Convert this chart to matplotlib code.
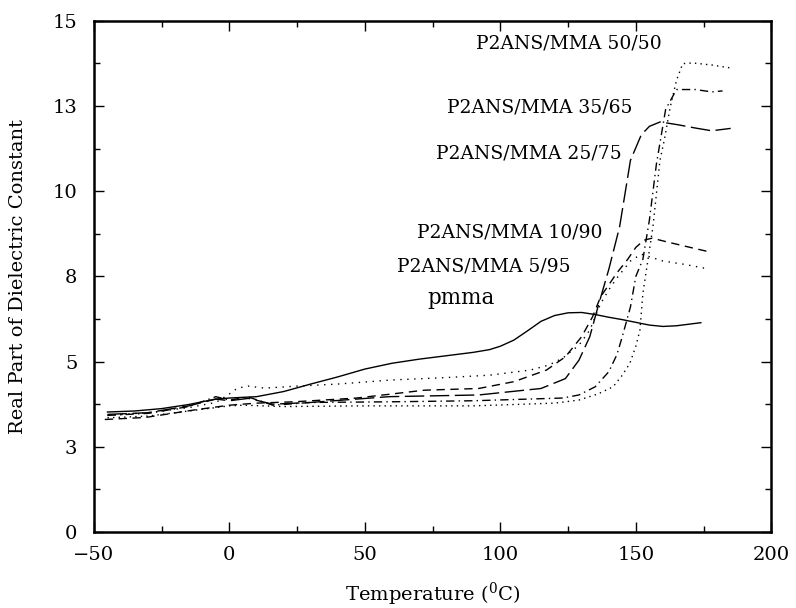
import matplotlib
matplotlib.use("Agg")
import matplotlib.pyplot as plt
from matplotlib.ticker import MultipleLocator, FixedLocator, FixedFormatter

plt.rcParams['font.family'] = ['DejaVu Serif']
plt.rcParams['mathtext.fontset'] = 'dejavuserif'

# pmma (solid)
pmma_t = [-45, -35, -25, -15, -5, 0, 5, 10, 20, 30, 40, 50, 60, 70, 80, 90, 96, 100,
          105, 110, 115, 120, 125, 130, 135, 140, 145, 150, 155, 160, 165, 170, 174]
pmma_e = [3.52, 3.55, 3.62, 3.74, 3.9, 3.93, 3.95, 3.97, 4.12, 4.34, 4.55, 4.78, 4.95,
          5.07, 5.17, 5.27, 5.35, 5.45, 5.63, 5.9, 6.18, 6.35, 6.43, 6.44, 6.38, 6.3,
          6.23, 6.15, 6.07, 6.03, 6.05, 6.1, 6.14]

# P2ANS/MMA 5/95 (dotted)
c5_t = [-45, -30, -15, -5, 0, 3, 7, 13, 25, 40, 60, 80, 96, 111, 118, 123, 129, 133,
        137, 140, 143, 148, 152, 156, 160, 168, 176]
c5_e = [3.42, 3.5, 3.65, 3.8, 4.05, 4.22, 4.28, 4.22, 4.28, 4.34, 4.46, 4.53, 4.6, 4.75,
        4.9, 5.1, 5.48, 5.92, 6.7, 7.1, 7.45, 7.95, 8.15, 8.05, 7.95, 7.85, 7.73]

# P2ANS/MMA 10/90 (short dash)
c10_t = [-46, -31, -13, 0, 10, 24, 47, 72, 92, 105, 117, 124, 130, 134, 137, 140, 143,
         147, 150, 153, 156, 162, 170, 177]
c10_e = [3.3, 3.36, 3.58, 3.72, 3.78, 3.82, 3.93, 4.16, 4.21, 4.41, 4.75, 5.14, 5.73,
         6.31, 6.9, 7.25, 7.6, 8.0, 8.35, 8.56, 8.62, 8.5, 8.35, 8.22]

# P2ANS/MMA 25/75 (long dash)
c25_t = [-45, -30, -15, -5, 0, 7, 16, 30, 59, 92, 115, 124, 129, 133, 136, 140, 144,
         148, 152, 155, 159, 166, 172, 178, 185]
c25_e = [3.45, 3.5, 3.7, 3.9, 3.85, 3.92, 3.75, 3.8, 3.97, 4.02, 4.21, 4.5, 5.04, 5.73,
         6.6, 7.7, 8.95, 10.9, 11.65, 11.9, 12.03, 11.94, 11.85, 11.77, 11.84]

# P2ANS/MMA 35/65 (dash-dot)
c35_t = [-45, -30, -15, -5, 0, 7, 16, 30, 60, 90, 123, 129, 135, 140, 143, 145, 148,
         150, 152.6, 155, 157.6, 161, 165, 172, 178, 182]
c35_e = [3.42, 3.48, 3.68, 3.97, 3.87, 3.96, 3.72, 3.8, 3.82, 3.85, 3.93, 4.02, 4.26,
         4.7, 5.2, 5.73, 6.6, 7.5, 8.0, 9.15, 10.8, 12.4, 12.98, 12.98, 12.91, 12.94]

# P2ANS/MMA 50/50 (dotted)
c50_t = [-45, -30, -15, 0, 5, 20, 50, 90, 120, 129, 136, 141.6, 145, 147.8, 150, 151.5,
         152.6, 154.5, 156.3, 158.9, 160.5, 162.7, 165, 167.3, 171, 178, 186]
c50_e = [3.35, 3.4, 3.55, 3.7, 3.72, 3.68, 3.7, 3.7, 3.78, 3.87, 4.05, 4.26, 4.6, 4.95,
         5.45, 5.92, 7.0, 8.0, 8.95, 10.9, 11.5, 12.47, 13.25, 13.74, 13.76, 13.7, 13.6]

y_ticks = [0, 2.5, 5, 7.5, 10, 12.5, 15]
y_labels = ['0', '3', '5', '8', '10', '13', '15']

fig = plt.figure(figsize=(7.96, 6.08), dpi=100)
ax = fig.add_axes([0.118, 0.125, 0.851, 0.841])

lw = 1.0
ax.plot(pmma_t, pmma_e, color='black', lw=lw, ls='-')
ax.plot(c5_t, c5_e, color='black', lw=lw, ls=(0, (1, 4)))
ax.plot(c10_t, c10_e, color='black', lw=lw, ls=(0, (6, 4)))
ax.plot(c25_t, c25_e, color='black', lw=lw, ls=(0, (14, 4)))
ax.plot(c35_t, c35_e, color='black', lw=lw, ls=(0, (6, 3, 1, 3)))
ax.plot(c50_t, c50_e, color='black', lw=lw, ls=(0, (1, 3)))

lab_fs = 13.5
ax.text(159.5, 14.34, 'P2ANS/MMA 50/50', ha='right', va='center', fontsize=lab_fs)
ax.text(148.9, 12.46, 'P2ANS/MMA 35/65', ha='right', va='center', fontsize=lab_fs)
ax.text(144.8, 11.1, 'P2ANS/MMA 25/75', ha='right', va='center', fontsize=lab_fs)
ax.text(137.8, 8.8, 'P2ANS/MMA 10/90', ha='right', va='center', fontsize=lab_fs)
ax.text(126.0, 7.8, 'P2ANS/MMA 5/95', ha='right', va='center', fontsize=lab_fs)
ax.text(72.9, 6.86, 'pmma', ha='left', va='center', fontsize=15.5)

ax.set_xlim(-50, 200)
ax.set_ylim(0, 15)
ax.xaxis.set_major_locator(MultipleLocator(50))
ax.xaxis.set_minor_locator(MultipleLocator(25))
ax.yaxis.set_major_locator(FixedLocator(y_ticks))
ax.yaxis.set_major_formatter(FixedFormatter(y_labels))
ax.yaxis.set_minor_locator(MultipleLocator(1.25))
ax.tick_params(which='both', direction='in', top=True, right=True, labelsize=14)
ax.tick_params(axis='x', which='major', pad=10)
ax.tick_params(axis='y', which='major', pad=12)
ax.tick_params(which='major', length=7, width=1)
ax.tick_params(which='minor', length=4, width=1)
for s in ax.spines.values():
    s.set_linewidth(1.8)

ax.set_xlabel('Temperature ($^{0}$C)', fontsize=14, labelpad=12)
ax.set_ylabel('Real Part of Dielectric Constant', fontsize=14, labelpad=18)

fig.savefig('out.png', dpi=100)
